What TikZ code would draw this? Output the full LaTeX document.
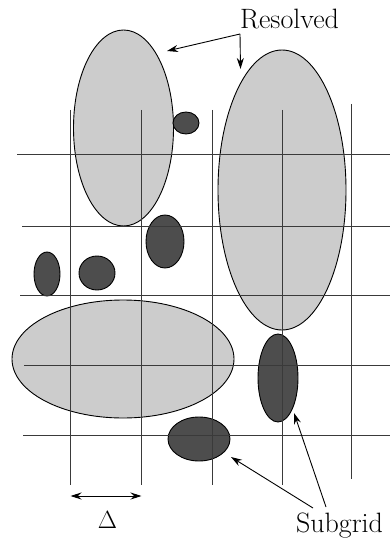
\documentclass[tikz,border=0pt]{standalone}
\usetikzlibrary{shapes.geometric,arrows.meta}
\definecolor{lightfill}{HTML}{CCCCCC}
\definecolor{darkfill}{HTML}{4D4D4D}
\definecolor{gridcol}{HTML}{3A3A3A}
\tikzset{
  resolvedblob/.style={ellipse,draw=black,line width=0.9pt,fill=lightfill,inner sep=0pt},
  subblob/.style={ellipse,draw=black,line width=0.9pt,fill=darkfill,inner sep=0pt},
  gridline/.style={draw=gridcol,line width=1pt},
  pointer/.style={draw=black,line width=0.9pt,-{Stealth[length=11pt,width=7pt]}},
  lbl/.style={font=\fontsize{28}{33}\selectfont,inner sep=0pt,anchor=base}
}
\begin{document}
\begin{tikzpicture}[x=1pt,y=-1pt]
\useasboundingbox (0,0) rectangle (390,540);
% resolved (light) eddies
\node[resolvedblob,minimum width=100pt,minimum height=196pt] (e1) at (123.5,128) {};
\node[resolvedblob,minimum width=128pt,minimum height=280pt] (e2) at (282,190) {};
\node[resolvedblob,minimum width=222pt,minimum height=118pt] (e3) at (123,359) {};
% subgrid (dark) eddies
\node[subblob,minimum width=26pt,minimum height=22pt] (s1) at (186,123) {};
\node[subblob,minimum width=38pt,minimum height=53pt] (s2) at (165,241.5) {};
\node[subblob,minimum width=26pt,minimum height=44pt] (s3) at (47,274) {};
\node[subblob,minimum width=36pt,minimum height=34pt] (s4) at (97,273) {};
\node[subblob,minimum width=40pt,minimum height=88pt] (s5) at (278,378) {};
\node[subblob,minimum width=62pt,minimum height=44pt] (s6) at (199,439) {};
% grid
\draw[gridline] (70,110) -- (70,485);
\draw[gridline] (141,110) -- (141,485);
\draw[gridline] (212,110) -- (212,485);
\draw[gridline] (282,110) -- (282,485);
\draw[gridline] (351,104) -- (351,479);
\draw[gridline] (17,155) -- (390,155);
\draw[gridline] (22,226) -- (390,226);
\draw[gridline] (20,295) -- (390,295);
\draw[gridline] (24,365) -- (390,365);
\draw[gridline] (23,435) -- (390,435);
% labels
\node[lbl] (res) at (289.5,29) {Resolved};
\node[lbl] (sub) at (339.5,532) {Subgrid};
\node[lbl] (del) at (107.5,528) {$\Delta$};
% pointers
\coordinate (rj) at (240,34);
\coordinate (rtipL) at (167,51);
\coordinate (rtipR) at (240.5,69);
\draw[pointer] (rj) -- (rtipL);
\draw[pointer] (rj) -- (rtipR);
\coordinate (sjA) at (313,508);
\coordinate (sjB) at (326,507);
\coordinate (stipA) at (231,457);
\coordinate (stipB) at (294,413);
\draw[pointer] (sjA) -- (stipA);
\draw[pointer] (sjB) -- (stipB);
\coordinate (dl) at (70.5,496);
\coordinate (dr) at (141.5,496);
\draw[draw=black,line width=0.9pt,{Stealth[length=11pt,width=7pt]}-{Stealth[length=11pt,width=7pt]}] (dl) -- (dr);
\end{tikzpicture}
\end{document}
